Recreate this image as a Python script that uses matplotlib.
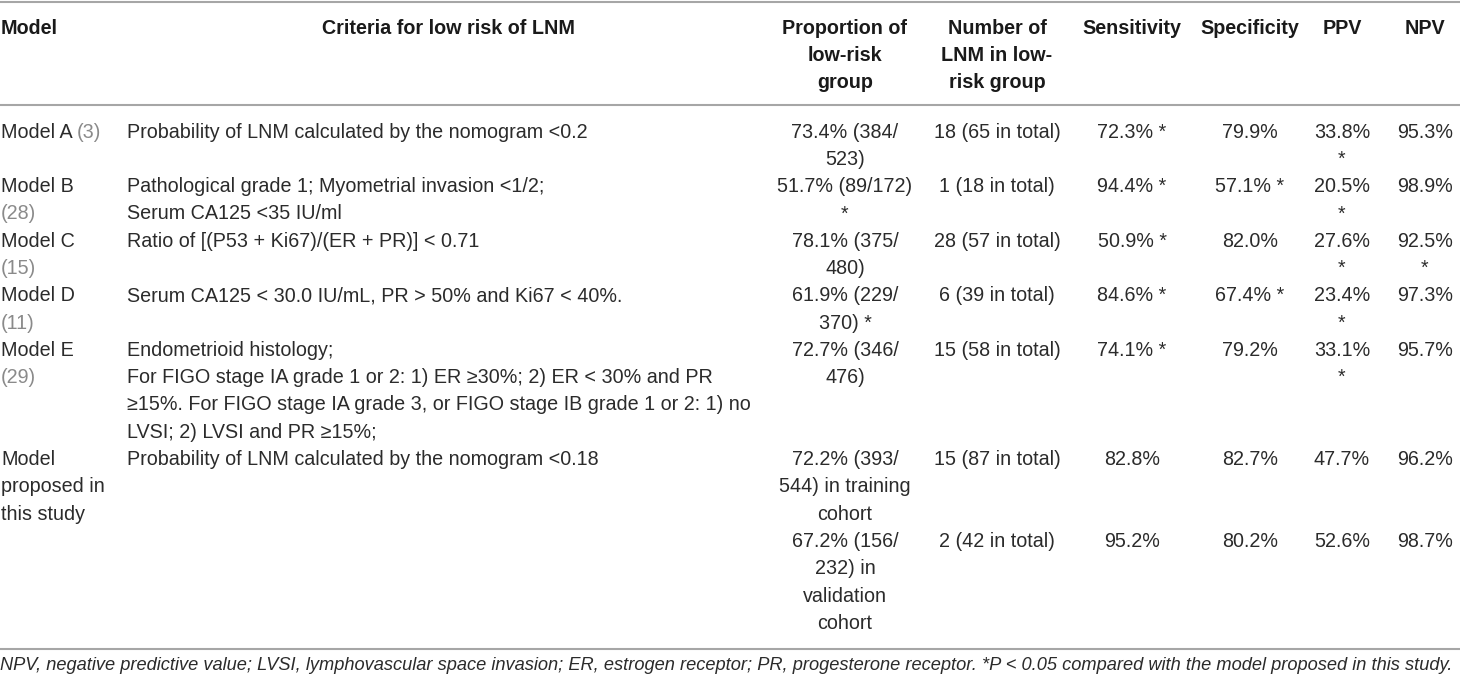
import matplotlib
matplotlib.use("Agg")
import matplotlib.pyplot as plt

plt.rcParams['font.family'] = ['Liberation Sans', 'DejaVu Sans']

# Table content
headers = [["Model"], ["Criteria for low risk of LNM"], ["Proportion of", "low-risk", "group"],
           ["Number of", "LNM in low-", "risk group"], ["Sensitivity"], ["Specificity"], ["PPV"], ["NPV"]]

model_names = [["Model A"], ["Model B"], ["Model C"], ["Model D"], ["Model E"],
               ["Model", "proposed in", "this study"], []]
model_refs = ["(3)", "(28)", "(15)", "(11)", "(29)", "", ""]

criteria = [
    ["Probability of LNM calculated by the nomogram <0.2"],
    ["Pathological grade 1; Myometrial invasion <1/2;", "Serum CA125 <35 IU/ml"],
    ["Ratio of [(P53 + Ki67)/(ER + PR)] < 0.71"],
    ["Serum CA125 < 30.0 IU/mL, PR > 50% and Ki67 < 40%."],
    ["Endometrioid histology;",
     "For FIGO stage IA grade 1 or 2: 1) ER \u226530%; 2) ER < 30% and PR",
     "\u226515%. For FIGO stage IA grade 3, or FIGO stage IB grade 1 or 2: 1) no",
     "LVSI; 2) LVSI and PR \u226515%;"],
    ["Probability of LNM calculated by the nomogram <0.18"],
    [],
]
proportion = [["73.4% (384/", "523)"], ["51.7% (89/172)", "*"], ["78.1% (375/", "480)"],
              ["61.9% (229/", "370) *"], ["72.7% (346/", "476)"],
              ["72.2% (393/", "544) in training", "cohort"],
              ["67.2% (156/", "232) in", "validation", "cohort"]]
number_lnm = [["18 (65 in total)"], ["1 (18 in total)"], ["28 (57 in total)"], ["6 (39 in total)"],
              ["15 (58 in total)"], ["15 (87 in total)"], ["2 (42 in total)"]]
sensitivity = [["72.3% *"], ["94.4% *"], ["50.9% *"], ["84.6% *"], ["74.1% *"], ["82.8%"], ["95.2%"]]
specificity = [["79.9%"], ["57.1% *"], ["82.0%"], ["67.4% *"], ["79.2%"], ["82.7%"], ["80.2%"]]
ppv = [["33.8%", "*"], ["20.5%", "*"], ["27.6%", "*"], ["23.4%", "*"], ["33.1%", "*"], ["47.7%"], ["52.6%"]]
npv = [["95.3%"], ["98.9%"], ["92.5%", "*"], ["97.3%"], ["95.7%"], ["96.2%"], ["98.7%"]]
row_lines = [2, 2, 2, 2, 4, 3, 4]

footnote = ("NPV, negative predictive value; LVSI, lymphovascular space invasion; ER, estrogen receptor; "
            "PR, progesterone receptor. *P < 0.05 compared with the model proposed in this study.")

# Layout (pixels)
W, H = 1460, 680
fs = 14.2
fs_note = 13.15
txt = "#2b2b2b"
ref_col = "#8a8a8a"
rule_col = "#a6a6a6"
centers = [None, 448, 845, 997, 1132, 1250, 1342, 1425]
x_crit = 127
head_y0, head_dy = 29, 26.5
body_y0, body_dy = 132, 27.3

fig = plt.figure(figsize=(W / 100, H / 100), dpi=100)
ax = fig.add_axes([0, 0, 1, 1])
ax.set_xlim(0, W)
ax.set_ylim(H, 0)
ax.axis("off")

for y in (1.5, 105, 649):
    ax.axhline(y, color=rule_col, lw=1.5)

# header
for j, lines in enumerate(headers):
    for i, s in enumerate(lines):
        y = head_y0 + i * head_dy
        if j == 0:
            ax.text(1, y, s, ha="left", va="center", fontsize=fs, fontweight="bold", color="#1a1a1a")
        else:
            ax.text(centers[j], y, s, ha="center", va="center", fontsize=fs, fontweight="bold", color="#1a1a1a")

# body
start = 0
for r, n in enumerate(row_lines):
    ys = [body_y0 + (start + i) * body_dy for i in range(n)]
    names = model_names[r]
    for i, s in enumerate(names):
        t = ax.text(1, ys[i], s, ha="left", va="center", fontsize=fs, color=txt)
    if model_refs[r]:
        if r == 0:
            ax.annotate(model_refs[r], xy=(1, 0.5), xycoords=t, xytext=(3, 0), textcoords="offset points",
                        ha="left", va="center", fontsize=fs, color=ref_col)
        else:
            ax.text(1, ys[1], model_refs[r], ha="left", va="center", fontsize=fs, color=ref_col)
    for i, s in enumerate(criteria[r]):
        ax.text(x_crit, ys[i], s, ha="left", va="center", fontsize=fs, color=txt)
    for j, col in zip(range(2, 8), [proportion, number_lnm, sensitivity, specificity, ppv, npv]):
        for i, s in enumerate(col[r]):
            ax.text(centers[j], ys[i], s, ha="center", va="center", fontsize=fs, color=txt)
    start += n

ax.text(0, 665, footnote, ha="left", va="center", fontsize=fs_note, style="italic", color=txt)

fig.savefig("out.png", dpi=100)
